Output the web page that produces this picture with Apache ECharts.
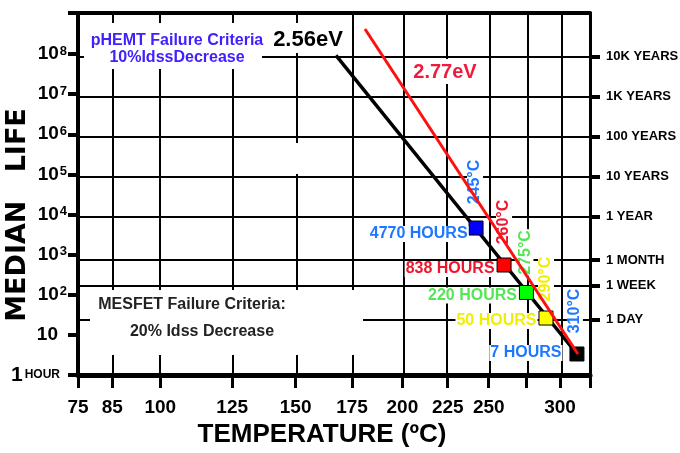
<!DOCTYPE html>
<html><head><meta charset="utf-8">
<script src="https://cdn.jsdelivr.net/npm/echarts@6/dist/echarts.min.js"></script>
<style>html,body{margin:0;padding:0;background:#fff}#c{width:680px;height:453px}</style>
</head><body><div id="c"></div>
<script>
// ---------------- data ----------------
const xTickTemps = [75, 85, 100, 125, 150, 175, 200, 225, 250, 275, 300, 324];
const xLabelTemps = [75, 85, 100, 125, 150, 175, 200, 225, 250, 300];
const xGridTemps = [85, 100, 125, 150, 175, 200, 225, 250, 275, 300];
const tempMin = 75;
const tempMax = 324;
const leftTickExponents = [0, 1, 2, 3, 4, 5, 6, 7, 8];
const lifeMaxDecades = 9.022;
const rightTickHours = [87600000, 8760000, 876000, 87600, 8760, 730, 168, 24];
const rightTickLabels = ['10K YEARS', '1K YEARS', '100 YEARS', '10 YEARS', '1 YEAR', '1 MONTH', '1 WEEK', '1 DAY'];
const pointTemps = [242, 260, 275.3, 289.4, 313.3];
const pointHours = [4600, 551, 114, 26.3, 3.34];
const pointHourLabels = ['4770 HOURS', '838 HOURS', '220 HOURS', '50 HOURS', '7 HOURS'];
const pointTempLabels = ['245°C', '260°C', '275°C', '290°C', '310°C'];
const line256Temps = [167.6, 313.3];
const line256Hours = [9.2e7, 3.34];
const line277Temps = [181.2, 314.1];
const line277Hours = [4.2e8, 3.34];

// ---------------- helpers / styles ----------------
const X = t => -1000 / (t + 273.15);      // Arrhenius axis: -1000/T(K)
const Y = h => Math.log10(h);             // log life
const SANS = "Liberation Sans";
const pointColors = ['#0000ff', '#ff0000', '#00ff00', '#ffff00', '#000000'];
const labelColors = ['#1e78ff', '#f0142d', '#55e655', '#f2ee00', '#1e78ff'];
const hourLabelDist = [0, 1, 1, 1, 7];
const hourLabelDy = [6, 4, 3, 3, -1];
// screen offsets [dx, dy] of the rotated temperature labels
const tempLabelShift = [[-1, -46], [0, -43], [-1, -40], [0, -39], [-2, -43]];

const chart = echarts.init(document.getElementById('c'), null, {renderer: 'canvas'});

const option = {
  animation: false,
  backgroundColor: '#fff',
  grid: {left: 78, right: 90, top: 13, bottom: 78, containLabel: false, outerBoundsMode: 'none'},
  xAxis: [{
    type: 'value', position: 'bottom', min: X(tempMin), max: X(tempMax),
    axisLine: {show: true, onZero: false, lineStyle: {color: '#000', width: 5}},
    axisTick: {show: true, inside: false, length: 13, lineStyle: {color: '#000', width: 3},
      customValues: xTickTemps.map(X)},
    axisLabel: {show: true, customValues: xLabelTemps.map(X), margin: 23, hideOverlap: false,
      formatter: v => String(Math.round(-1000 / v - 273.15)),
      color: '#000', fontFamily: SANS, fontWeight: 'bold', fontSize: 19},
    splitLine: {show: false},
    name: 'TEMPERATURE (ºC)', nameLocation: 'middle', nameGap: 47, nameMoveOverlap: false,
    nameTextStyle: {color: '#000', fontFamily: SANS, fontWeight: 'bold', fontSize: 26, padding: [0, 24, 0, 0]}
  }, {
    type: 'value', position: 'top', min: X(tempMin), max: X(tempMax),
    axisLine: {show: true, onZero: false, lineStyle: {color: '#000', width: 4}},
    axisTick: {show: false}, axisLabel: {show: false}, splitLine: {show: false}
  }],
  yAxis: [{
    type: 'value', position: 'left', min: 0, max: lifeMaxDecades,
    axisLine: {show: true, onZero: false, lineStyle: {color: '#000', width: 4}},
    axisTick: {show: true, inside: false, length: 10, lineStyle: {color: '#000', width: 4},
      customValues: leftTickExponents.concat([lifeMaxDecades])},
    axisLabel: {show: true, customValues: leftTickExponents, margin: 11, hideOverlap: false,
      formatter: v => {
        const e = Math.round(v);
        if (e === 0) return '{o|1}{h|HOUR}';
        if (e === 1) return '{b|10}{p|}';
        return '{b|10}{s|' + e + '}';
      },
      rich: {
        b: {fontSize: 19, fontWeight: 'bold', fontFamily: SANS, color: '#000'},
        o: {fontSize: 21, fontWeight: 'bold', fontFamily: SANS, color: '#000'},
        s: {fontSize: 13, fontWeight: 'bold', fontFamily: SANS, color: '#000', verticalAlign: 'top', padding: [0, 0, 0, 1]},
        p: {width: 9},
        h: {fontSize: 12, fontWeight: 'bold', fontFamily: SANS, color: '#000', padding: [0, 7, 0, 2]}
      }},
    splitLine: {show: false},
    name: 'MEDIAN   LIFE', nameLocation: 'middle', nameRotate: 90, nameGap: 47, nameMoveOverlap: false,
    nameTextStyle: {color: '#000', fontFamily: 'DejaVu Sans', fontWeight: 'bold', fontSize: 27, padding: [0, 42, 0, 0]}
  }, {
    type: 'value', position: 'right', min: 0, max: lifeMaxDecades,
    axisLine: {show: true, onZero: false, lineStyle: {color: '#000', width: 3}},
    axisTick: {show: true, inside: false, length: 10, lineStyle: {color: '#000', width: 4},
      customValues: rightTickHours.map(Y)},
    axisLabel: {show: true, customValues: rightTickHours.map(Y), margin: 16, hideOverlap: false,
      formatter: v => {
        for (let i = 0; i < rightTickHours.length; i++) {
          if (Math.abs(Y(rightTickHours[i]) - v) < 1e-6) return rightTickLabels[i];
        }
        return '';
      },
      color: '#000', fontFamily: SANS, fontWeight: 'bold', fontSize: 13},
    splitLine: {show: false}
  }],
  series: [{
    name: 'grid', type: 'line', z: 1, silent: true, symbol: 'none',
    data: [[X(tempMin), 0]], lineStyle: {opacity: 0},
    markLine: {
      silent: true, symbol: ['none', 'none'], label: {show: false}, animation: false,
      lineStyle: {color: '#000', width: 2, type: 'solid'},
      emphasis: {disabled: true},
      data: xGridTemps.map(t => ({xAxis: X(t)})).concat(rightTickHours.map(h => ({yAxis: Y(h)})))
    }
  }, {
    name: '2.56eV', type: 'line', z: 10, symbol: 'none', silent: true,
    data: line256Temps.map((t, i) => [X(t), Y(line256Hours[i])]),
    lineStyle: {color: '#000', width: 3.5}
  }, {
    name: 'tempLabels', type: 'scatter', z: 9, silent: true, symbolSize: 1,
    itemStyle: {color: 'rgba(0,0,0,0)', opacity: 1},
    data: pointTemps.map((t, i) => ({
      value: [X(t), Y(pointHours[i])],
      label: {show: true, position: 'inside', rotate: 90,
        // offset is applied in the rotated frame: [-dy, dx]
        offset: [-tempLabelShift[i][1], tempLabelShift[i][0]],
        formatter: pointTempLabels[i], color: labelColors[i], fontFamily: SANS, fontWeight: 'bold', fontSize: 16,
        backgroundColor: '#fff', padding: [0, 1, 0, 1]}
    }))
  }, {
    name: 'points', type: 'scatter', z: 12, silent: true, symbol: 'rect', symbolSize: 14,
    itemStyle: {opacity: 1},
    data: pointTemps.map((t, i) => ({
      value: [X(t), Y(pointHours[i])],
      itemStyle: {color: pointColors[i], borderColor: '#000', borderWidth: 1, opacity: 1},
      label: {show: true, position: 'left', distance: hourLabelDist[i], offset: [0, hourLabelDy[i]],
        formatter: pointHourLabels[i], color: labelColors[i], fontFamily: SANS, fontWeight: 'bold', fontSize: 16,
        backgroundColor: '#fff', padding: [0, 1, 0, 1]}
    }))
  }, {
    name: '2.77eV', type: 'line', z: 13, symbol: 'none', silent: true,
    data: line277Temps.map((t, i) => [X(t), Y(line277Hours[i])]),
    lineStyle: {color: '#ff1010', width: 3}
  }],
  graphic: [
    {type: 'rect', z: 6, silent: true, shape: {x: 84, y: 23, width: 178, height: 46}, style: {fill: '#fff'}},
    {type: 'rect', z: 6, silent: true, shape: {x: 266, y: 23, width: 84, height: 30}, style: {fill: '#fff'}},
    {type: 'rect', z: 6, silent: true, shape: {x: 406, y: 59, width: 77, height: 25}, style: {fill: '#fff'}},
    {type: 'rect', z: 6, silent: true, shape: {x: 90, y: 290, width: 273, height: 65}, style: {fill: '#fff'}},
    {type: 'rect', z: 6, silent: true, shape: {x: 293, y: 143, width: 6, height: 31}, style: {fill: '#fff'}},
    {type: 'text', z: 7, silent: true, x: 177, y: 41, style: {text: 'pHEMT Failure Criteria', fill: '#4020ff',
      font: "bold 16px 'Liberation Sans', Arial, sans-serif", align: 'center', verticalAlign: 'middle'}},
    {type: 'text', z: 7, silent: true, x: 177, y: 58, style: {text: '10%IdssDecrease', fill: '#4020ff',
      font: "bold 16px 'Liberation Sans', Arial, sans-serif", align: 'center', verticalAlign: 'middle'}},
    {type: 'text', z: 7, silent: true, x: 308, y: 40, style: {text: '2.56eV', fill: '#000',
      font: "bold 22px 'Liberation Sans', Arial, sans-serif", align: 'center', verticalAlign: 'middle'}},
    {type: 'text', z: 7, silent: true, x: 445, y: 72, style: {text: '2.77eV', fill: '#ee1c3c',
      font: "bold 20px 'Liberation Sans', Arial, sans-serif", align: 'center', verticalAlign: 'middle'}},
    {type: 'text', z: 7, silent: true, x: 192, y: 305, style: {text: 'MESFET Failure Criteria:', fill: '#222',
      font: "bold 16px 'Liberation Sans', Arial, sans-serif", align: 'center', verticalAlign: 'middle'}},
    {type: 'text', z: 7, silent: true, x: 202, y: 332, style: {text: '20% Idss Decrease', fill: '#222',
      font: "bold 16px 'Liberation Sans', Arial, sans-serif", align: 'center', verticalAlign: 'middle'}}
  ]
};
chart.setOption(option);
</script>
</body></html>
